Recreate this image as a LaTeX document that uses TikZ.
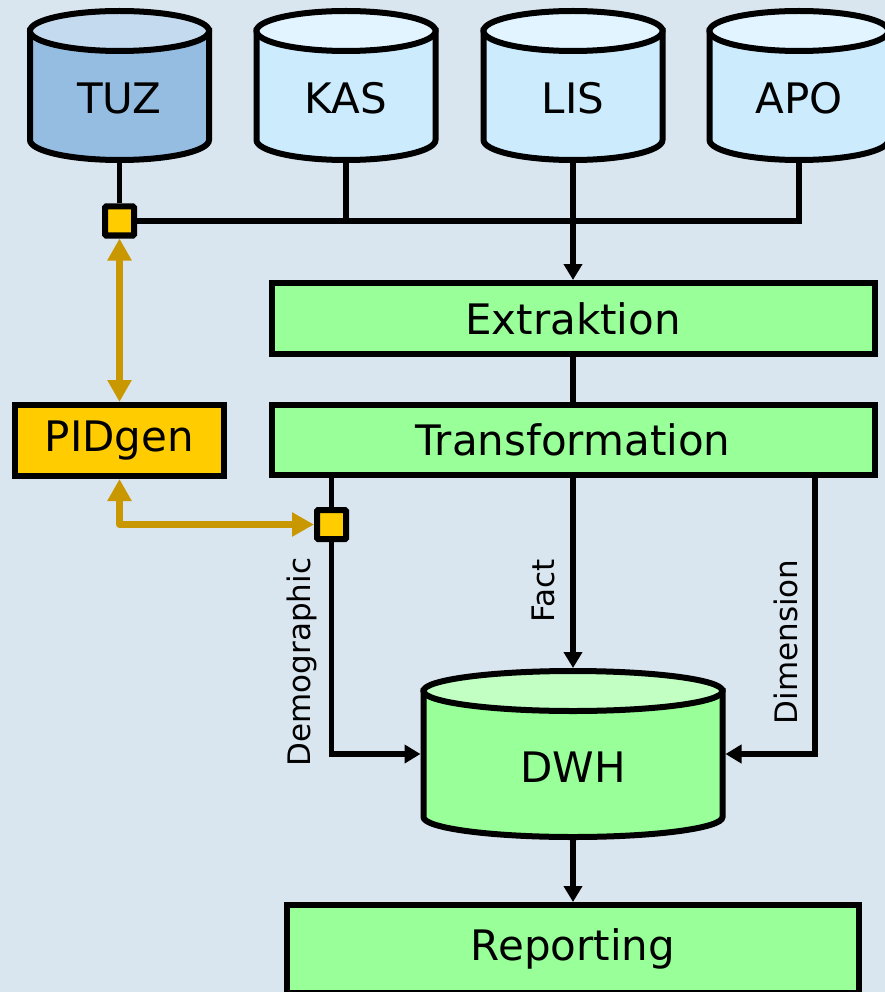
\documentclass[tikz,border=0pt]{standalone}
\usepackage{fontspec}
\setmainfont{DejaVu Sans}
\usetikzlibrary{arrows.meta}

\definecolor{bgblue}{HTML}{D9E5EF}
\definecolor{tuzbody}{HTML}{95BDE2}
\definecolor{tuzlid}{HTML}{C3DAEF}
\definecolor{srcbody}{HTML}{CCECFE}
\definecolor{srclid}{HTML}{E1F4FF}
\definecolor{stagegreen}{HTML}{99FF99}
\definecolor{dwhlid}{HTML}{C2FFC2}
\definecolor{jointgold}{HTML}{FFCC00}
\definecolor{arrowgold}{HTML}{C99700}

% cylinder body and lid: center x, top y, bottom y, half width, body, lid
\newcommand{\dbshape}[6]{%
  \filldraw[line width=6pt, fill=#5] (#1-#4,#2-20) -- (#1-#4,#3+20)
    arc[start angle=180, end angle=360, x radius=#4pt, y radius=20pt]
    -- (#1+#4,#2-20) -- cycle;
  \filldraw[line width=6pt, fill=#6] (#1,#2-20) ellipse[x radius=#4pt, y radius=20pt];
}

\tikzset{
  bigtext/.style={font=\fontsize{42}{50}\selectfont},
  smalltext/.style={font=\fontsize{31}{37}\selectfont},
  stage/.style={draw, line width=6pt, fill=stagegreen, bigtext, inner sep=0pt},
  db/.style={bigtext, inner sep=0pt, outer sep=3pt, text height=56pt, text depth=0pt},
  joint/.style={draw, line width=6pt, fill=jointgold, minimum size=29pt, inner sep=0pt, rounded corners=1pt},
  conn/.style={line width=5.5pt},
  arr/.style={conn, -{Triangle[length=16pt,width=18pt]}},
  goldarr/.style={line width=7pt, draw=arrowgold, line join=round,
    {Triangle[length=22pt,width=23pt]}-{Triangle[length=22pt,width=23pt]}},
  lbl/.style={smalltext, rotate=90, inner sep=0pt},
}

\begin{document}
\begin{tikzpicture}[x=1pt,y=1pt]

\fill[bgblue] (0,0) rectangle (885,-992);
\useasboundingbox (0,0) rectangle (885,-992);
\clip (0,0) rectangle (885,-992);

% sources
\dbshape{119.5}{-11}{-160}{89.5}{tuzbody}{tuzlid}
\dbshape{346}{-11}{-160}{89.5}{srcbody}{srclid}
\dbshape{573}{-11}{-160}{89.5}{srcbody}{srclid}
\dbshape{799}{-11}{-160}{89.5}{srcbody}{srclid}
\node[db, minimum width=179pt, minimum height=149pt] (tuz) at (119.5,-85.5) {TUZ};
\node[db, minimum width=179pt, minimum height=149pt] (kas) at (346,-85.5) {KAS};
\node[db, minimum width=179pt, minimum height=149pt] (lis) at (573,-85.5) {LIS};
\node[db, minimum width=179pt, minimum height=149pt] (apo) at (799,-85.5) {APO};

% ETL
\node[stage, minimum width=603pt, minimum height=71pt] (extr) at (573,-318.5) {Extraktion};
\node[stage, minimum width=603pt, minimum height=70pt] (trans) at (573,-440) {Transformation};
\node[stage, fill=jointgold, minimum width=209pt, minimum height=71pt] (pid) at (119.5,-440.5) {PIDgen};

% warehouse
\dbshape{573}{-671}{-837}{149.5}{stagegreen}{dwhlid}
\node[db, minimum width=299pt, minimum height=166pt] (dwh) at (573,-754) {DWH};
\node[stage, minimum width=572pt, minimum height=88pt] (rep) at (573,-949) {Reporting};

\node[joint] (sq1) at (119.5,-221) {};
\node[joint] (sq2) at (331.5,-524.5) {};
\coordinate (dimtop) at (815,-440);

\draw[conn] (tuz.south) -- (sq1.north);
\draw[conn] (sq1.east) -- (sq1 -| apo.south) -- (apo.south);
\draw[conn] (kas.south) -- (kas.south |- sq1);
\draw[arr] (lis.south) -- (extr.north);
\draw[conn] (extr.south) -- (trans.north);

\draw[goldarr] (sq1.south) -- (pid.north);
\draw[goldarr] (pid.south) |- (sq2.west);

\draw[conn] (sq2 |- trans.south) -- (sq2.north);
\draw[arr] (sq2.south) |- (dwh.west);
\draw[arr] (trans.south) -- (dwh.north);
\draw[arr] (dimtop |- trans.south) |- (dwh.east);
\draw[arr] (dwh.south) -- (rep.north);

\node[lbl] (demo) at (302,-662) {Demographic};
\node[lbl] (fact) at (543,-591) {Fact};
\node[lbl] (dim) at (786,-642) {Dimension};
\end{tikzpicture}
\end{document}
